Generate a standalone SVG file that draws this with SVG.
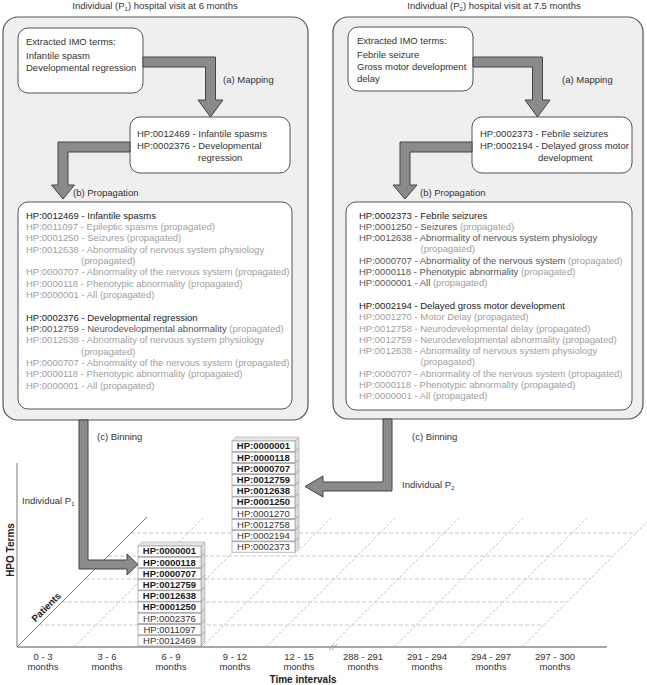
<svg xmlns="http://www.w3.org/2000/svg" xmlns:xlink="http://www.w3.org/1999/xlink" width="647" height="685" viewBox="0 0 647 685">
<style>
text{font-family:"Liberation Sans",Arial,sans-serif;font-size:9.5px;fill:#333}
.blk{fill:#1a1a1a}
.drk{fill:#555}
.lt{fill:#a0a0a0}
.bold{font-weight:bold}
.panel{fill:#efefef;stroke:#555;stroke-width:1.2}
.inner{fill:#fff;stroke:#555;stroke-width:1}
.arrow{fill:#8a8a8a;stroke:#444;stroke-width:1;stroke-linejoin:miter}
.hgrid{stroke:#bdbdbd;stroke-width:0.8;stroke-dasharray:4 2;fill:none}
.dgrid{stroke:#b0b0b0;stroke-width:0.7;stroke-dasharray:3 1.5;fill:none}
.mid{text-anchor:middle}
.sub{font-size:6px}
</style>
<defs>
<g id="cube">
<polygon points="0,0 4,-4 67,-4 63,0" fill="#e6e6e6" stroke="#aaa" stroke-width="0.6"/>
<polygon points="63,0 67,-4 67,6.4 63,10.4" fill="#dcdcdc" stroke="#aaa" stroke-width="0.6"/>
<rect x="0" y="0" width="63" height="10.4" fill="#fff" stroke="#999" stroke-width="0.7"/>
</g>
</defs>

<!-- titles -->
<text x="155" y="9" class="mid">Individual (P<tspan class="sub" dy="2">1</tspan><tspan dy="-2">) hospital visit at 6 months</tspan></text>
<text x="494" y="9" class="mid">Individual (P<tspan class="sub" dy="2">2</tspan><tspan dy="-2">) hospital visit at 7.5 months</tspan></text>

<!-- left panel -->
<g id="panel-p1">
<rect class="panel" x="3" y="17" width="305" height="403" rx="15"/>
</g>
<g id="imo-p1">
<rect class="inner" x="18" y="28" width="125" height="65" rx="10"/>
<text x="26" y="45">Extracted IMO terms:</text>
<text x="26" y="59">Infantile spasm</text>
<text x="26" y="71">Developmental regression</text>
</g>
<g id="map-p1">
<rect class="inner" x="130" y="117" width="160" height="56" rx="10"/>
<text x="137" y="137">HP:0012469 - Infantile spasms</text>
<text x="137" y="149">HP:0002376 - Developmental</text>
<text x="198" y="161">regression</text>
</g>
<g id="prop-p1">
<rect class="inner" x="18" y="202" width="274" height="207" rx="10"/>
<text x="26" y="218.5" class="blk">HP:0012469 - Infantile spasms</text>
<text x="26" y="229.8" class="lt">HP:0011097 - Epileptic spasms (propagated)</text>
<text x="26" y="241.2" class="lt">HP:0001250 - Seizures (propagated)</text>
<text x="26" y="252.5" class="lt">HP:0012638 - Abnormality of nervous system physiology</text>
<text x="81" y="263.8" class="lt">(propagated)</text>
<text x="26" y="275.2" class="lt">HP:0000707 - Abnormality of the nervous system (propagated)</text>
<text x="26" y="286.5" class="lt">HP:0000118 - Phenotypic abnormality (propagated)</text>
<text x="26" y="297.8" class="lt">HP:0000001 - All (propagated)</text>
<text x="26" y="320.5" class="blk">HP:0002376 - Developmental regression</text>
<text x="26" y="331.8" class="drk">HP:0012759 - Neurodevelopmental abnormality <tspan class="lt">(propagated)</tspan></text>
<text x="26" y="343.2" class="lt">HP:0012638 - Abnormality of nervous system physiology</text>
<text x="81" y="354.5" class="lt">(propagated)</text>
<text x="26" y="365.8" class="lt">HP:0000707 - Abnormality of the nervous system (propagated)</text>
<text x="26" y="377.2" class="lt">HP:0000118 - Phenotypic abnormality (propagated)</text>
<text x="26" y="388.5" class="lt">HP:0000001 - All (propagated)</text>
</g>

<!-- right panel -->
<g id="panel-p2">
<rect class="panel" x="333" y="17" width="310" height="402" rx="15"/>
</g>
<g id="imo-p2">
<rect class="inner" x="348" y="27" width="125" height="64" rx="10"/>
<text x="357" y="44">Extracted IMO terms:</text>
<text x="357" y="58">Febrile seizure</text>
<text x="357" y="70">Gross motor development</text>
<text x="357" y="82">delay</text>
</g>
<g id="map-p2">
<rect class="inner" x="472" y="117" width="160" height="56" rx="10"/>
<text x="480" y="137">HP:0002373 - Febrile seizures</text>
<text x="480" y="149">HP:0002194 - Delayed gross motor</text>
<text x="538" y="161">development</text>
</g>
<g id="prop-p2">
<rect class="inner" x="346" y="202" width="286" height="208" rx="10"/>
<text x="359" y="218.5" class="blk">HP:0002373 - Febrile seizures</text>
<text x="359" y="229.8" class="drk">HP:0001250 - Seizures <tspan class="lt">(propagated)</tspan></text>
<text x="359" y="241.1" class="drk">HP:0012638 - Abnormality of nervous system physiology</text>
<text x="420.5" y="252.4" class="lt">(propagated)</text>
<text x="359" y="263.7" class="drk">HP:0000707 - Abnormality of the nervous system <tspan class="lt">(propagated)</tspan></text>
<text x="359" y="275" class="drk">HP:0000118 - Phenotypic abnormality <tspan class="lt">(propagated)</tspan></text>
<text x="359" y="286.3" class="drk">HP:0000001 - All <tspan class="lt">(propagated)</tspan></text>
<text x="359" y="308.9" class="blk">HP:0002194 - Delayed gross motor development</text>
<text x="359" y="320.2" class="lt">HP:0001270 - Motor Delay (propagated)</text>
<text x="359" y="331.5" class="lt">HP:0012758 - Neurodevelopmental delay (propagated)</text>
<text x="359" y="342.8" class="lt">HP:0012759 - Neurodevelopmental abnormality (propagated)</text>
<text x="359" y="354.1" class="lt">HP:0012638 - Abnormality of nervous system physiology</text>
<text x="420.5" y="365.4" class="lt">(propagated)</text>
<text x="359" y="376.7" class="lt">HP:0000707 - Abnormality of the nervous system (propagated)</text>
<text x="359" y="388" class="lt">HP:0000118 - Phenotypic abnormality (propagated)</text>
<text x="359" y="399.3" class="lt">HP:0000001 - All (propagated)</text>
</g>

<!-- chart axes and grid -->
<g id="chart">
<line x1="131" y1="533" x2="636" y2="533" class="hgrid"/>
<line x1="108" y1="556" x2="613" y2="556" class="hgrid"/>
<line x1="85" y1="579" x2="590" y2="579" class="hgrid"/>
<line x1="62" y1="602" x2="567" y2="602" class="hgrid"/>
<line x1="39" y1="625" x2="544" y2="625" class="hgrid"/>
<line x1="74" y1="647" x2="204" y2="517" class="dgrid"/>
<line x1="138" y1="647" x2="268" y2="517" class="dgrid"/>
<line x1="202" y1="647" x2="332" y2="517" class="dgrid"/>
<line x1="266" y1="647" x2="396" y2="517" class="dgrid"/>
<line x1="330" y1="647" x2="460" y2="517" class="dgrid"/>
<line x1="394" y1="647" x2="524" y2="517" class="dgrid"/>
<line x1="458" y1="647" x2="588" y2="517" class="dgrid"/>
<line x1="522" y1="647" x2="652" y2="517" class="dgrid"/>
<line x1="17" y1="463" x2="17" y2="647" stroke="#555" stroke-width="0.8"/>
<line x1="17" y1="647" x2="147" y2="517" stroke="#555" stroke-width="0.8"/>
<line x1="17" y1="647" x2="607" y2="647" stroke="#a8a8a8" stroke-width="2"/>
<line x1="329" y1="650" x2="334" y2="644" stroke="#888" stroke-width="0.7"/>
<line x1="332" y1="650" x2="337" y2="644" stroke="#888" stroke-width="0.7"/>
<text x="10" y="550" class="bold mid" transform="rotate(-90 10 550)" style="font-size:10px;fill:#222" dy="3.5">HPO Terms</text>
<text x="48.5" y="609.5" class="bold mid" transform="rotate(-45 48.5 609.5)" style="font-size:9.5px;fill:#222">Patients</text>
<text x="22" y="504">Individual P<tspan class="sub" dy="2">1</tspan></text>
<text x="402" y="488">Individual P<tspan class="sub" dy="2">2</tspan></text>
<text x="43" y="659.5" class="mid">0 - 3</text><text x="43" y="669.5" class="mid">months</text>
<text x="107" y="659.5" class="mid">3 - 6</text><text x="107" y="669.5" class="mid">months</text>
<text x="171" y="659.5" class="mid">6 - 9</text><text x="171" y="669.5" class="mid">months</text>
<text x="235" y="659.5" class="mid">9 - 12</text><text x="235" y="669.5" class="mid">months</text>
<text x="299" y="659.5" class="mid">12 - 15</text><text x="299" y="669.5" class="mid">months</text>
<text x="363" y="659.5" class="mid">288 - 291</text><text x="363" y="669.5" class="mid">months</text>
<text x="427" y="659.5" class="mid">291 - 294</text><text x="427" y="669.5" class="mid">months</text>
<text x="491" y="659.5" class="mid">294 - 297</text><text x="491" y="669.5" class="mid">months</text>
<text x="555" y="659.5" class="mid">297 - 300</text><text x="555" y="669.5" class="mid">months</text>
<text x="303" y="683" class="bold mid" style="font-size:10px;fill:#222">Time intervals</text>
</g>

<!-- stacks -->
<g id="stack-p2">
<use xlink:href="#cube" x="232" y="541.8"/>
<use xlink:href="#cube" x="232" y="530.6"/>
<use xlink:href="#cube" x="232" y="519.4"/>
<use xlink:href="#cube" x="232" y="508.2"/>
<use xlink:href="#cube" x="232" y="497"/>
<use xlink:href="#cube" x="232" y="485.8"/>
<use xlink:href="#cube" x="232" y="474.6"/>
<use xlink:href="#cube" x="232" y="463.4"/>
<use xlink:href="#cube" x="232" y="452.2"/>
<use xlink:href="#cube" x="232" y="441"/>
<text x="263.5" y="449.4" class="mid bold blk">HP:0000001</text>
<text x="263.5" y="460.6" class="mid bold blk">HP:0000118</text>
<text x="263.5" y="471.8" class="mid bold blk">HP:0000707</text>
<text x="263.5" y="483" class="mid bold blk">HP:0012759</text>
<text x="263.5" y="494.2" class="mid bold blk">HP:0012638</text>
<text x="263.5" y="505.4" class="mid bold blk">HP:0001250</text>
<text x="263.5" y="516.6" class="mid">HP:0001270</text>
<text x="263.5" y="527.8" class="mid">HP:0012758</text>
<text x="263.5" y="539" class="mid">HP:0002194</text>
<text x="263.5" y="550.2" class="mid">HP:0002373</text>
</g>
<g id="stack-p1">
<use xlink:href="#cube" x="138" y="635.6"/>
<use xlink:href="#cube" x="138" y="624.4"/>
<use xlink:href="#cube" x="138" y="613.2"/>
<use xlink:href="#cube" x="138" y="602"/>
<use xlink:href="#cube" x="138" y="590.8"/>
<use xlink:href="#cube" x="138" y="579.6"/>
<use xlink:href="#cube" x="138" y="568.4"/>
<use xlink:href="#cube" x="138" y="557.2"/>
<use xlink:href="#cube" x="138" y="546"/>
<text x="169.5" y="554.4" class="mid bold blk">HP:0000001</text>
<text x="169.5" y="565.6" class="mid bold blk">HP:0000118</text>
<text x="169.5" y="576.8" class="mid bold blk">HP:0000707</text>
<text x="169.5" y="588" class="mid bold blk">HP:0012759</text>
<text x="169.5" y="599.2" class="mid bold blk">HP:0012638</text>
<text x="169.5" y="610.4" class="mid bold blk">HP:0001250</text>
<text x="169.5" y="621.6" class="mid">HP:0002376</text>
<text x="169.5" y="632.8" class="mid">HP:0011097</text>
<text x="169.5" y="644" class="mid">HP:0012469</text>
</g>

<!-- connectors -->
<g id="connectors">
<polygon class="arrow" points="143,57 215.5,57 215.5,100 223,100 210.5,117 198,100 205.5,100 205.5,67 143,67"/>
<polygon class="arrow" points="130,142 58,142 58,185 51.5,185 63,199 74.5,185 68,185 68,152 130,152"/>
<polygon class="arrow" points="473,57 542.5,57 542.5,100 550,100 537.5,117 525,100 532.5,100 532.5,67 473,67"/>
<polygon class="arrow" points="472,142 400,142 400,185 393,185 405,199 417,185 410,185 410,152 472,152"/>
<polygon class="arrow" points="79,420 88,420 88,560 127,560 127,554 138,564.5 127,575 127,569 79,569"/>
<polygon class="arrow" points="392,419 392,491 323,491 323,497 305,486.5 323,476 323,482 383,482 383,419"/>
<text x="223" y="83">(a) Mapping</text>
<text x="562" y="83">(a) Mapping</text>
<text x="73" y="196">(b) Propagation</text>
<text x="420" y="196">(b) Propagation</text>
<text x="97" y="440">(c) Binning</text>
<text x="412" y="440">(c) Binning</text>
</g>
</svg>
